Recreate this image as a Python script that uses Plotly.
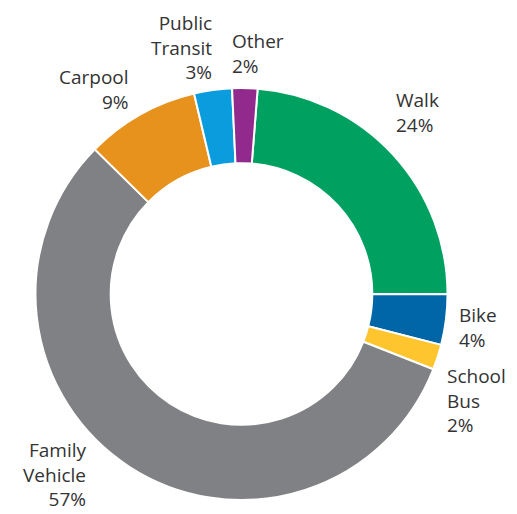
import plotly.graph_objects as go

categories = ["Walk", "Bike", "School Bus", "Family Vehicle", "Carpool", "Public Transit", "Other"]
values = [24, 4, 2, 57, 9, 3, 2]
colors = ["#00A160", "#0066A8", "#FFC52F", "#808184", "#E8921E", "#0A9CDD", "#922A8E"]
label_lines = [["Walk", "24%"], ["Bike", "4%"], ["School", "Bus", "2%"], ["Family", "Vehicle", "57%"],
               ["Carpool", "9%"], ["Public", "Transit", "3%"], ["Other", "2%"]]

OFF = 8  # page body margin
W, H = 517 - OFF, 514 - OFF
cx, cy, R = 241.5 - OFF, 294 - OFF, 206

fig = go.Figure(go.Pie(
    labels=categories, values=values, sort=False, direction="clockwise",
    rotation=4.5, hole=0.635, textinfo="none", hoverinfo="label+percent",
    marker=dict(colors=colors, line=dict(color="white", width=2)),
    domain=dict(x=[(cx - R) / W, (cx + R) / W], y=[1 - (cy + R) / H, 1 - (cy - R) / H]),
    showlegend=False,
))

FS = 19
LS_REF = 22.5
LS = 1.3 * FS
# label anchor: x edge, baseline of first line, side (page pixels)
label_pos = [(395, 108, "left"), (458, 323, "left"), (446, 385, "left"), (87, 468, "right"),
             (130, 85, "right"), (213, 27, "right"), (231, 49, "left")]
for lines, (x, yb, side) in zip(label_lines, label_pos):
    n = len(lines)
    ymid = yb + (n - 1) * LS_REF / 2 - 0.36 * FS - OFF
    half = n * LS / 2 + 1
    ymid = min(max(ymid, half + 1), H - half - 1)
    fig.add_annotation(
        text="<br>".join(lines), x=(x - OFF) / W, y=1 - ymid / H, xref="paper", yref="paper",
        xanchor=side, yanchor="middle", align=side, showarrow=False, borderpad=0,
        font=dict(family="'Open Sans', sans-serif", size=FS, color="#333333"),
    )

fig.update_layout(width=W, height=H, margin=dict(l=0, r=0, t=0, b=0),
                  paper_bgcolor="white", plot_bgcolor="white")
fig.write_html("out.html")
